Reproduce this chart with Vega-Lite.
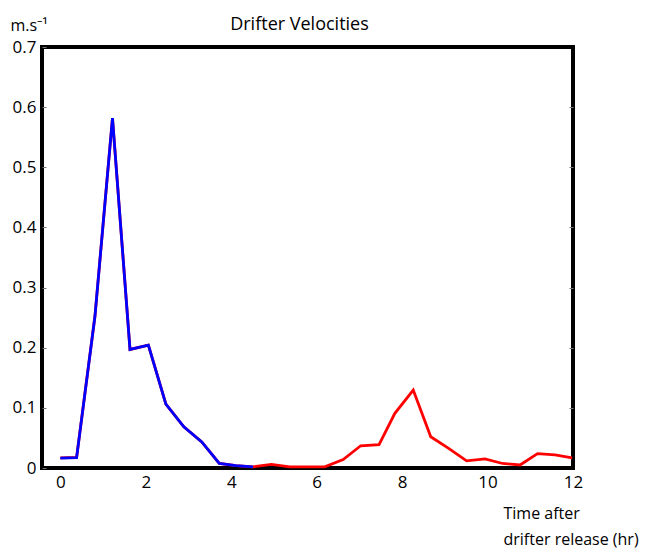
{
  "$schema": "https://vega.github.io/schema/vega-lite/v6.json",
  "autosize": "none",
  "width": 531,
  "height": 421,
  "padding": {"left": 42, "top": 47, "right": 90, "bottom": 82},
  "background": "white",
  "title": {
    "text": "Drifter Velocities",
    "fontSize": 18,
    "font": "Open Sans",
    "fontWeight": "normal",
    "color": "black",
    "offset": 14,
    "dx": -8,
    "dy": 31
  },
  "config": {
    "view": {"stroke": "black", "strokeWidth": 4},
    "axis": {"labelFont": "Open Sans", "titleFont": "Open Sans", "labelColor": "black", "titleColor": "black", "grid": false}
  },
  "datasets": {
    "vel": [
      {"t": 0.0, "v": 0.0168, "series": "red"},
      {"t": 0.38, "v": 0.0175, "series": "red"},
      {"t": 0.81, "v": 0.2527, "series": "red"},
      {"t": 1.22, "v": 0.5817, "series": "red"},
      {"t": 1.63, "v": 0.1972, "series": "red"},
      {"t": 2.06, "v": 0.2044, "series": "red"},
      {"t": 2.47, "v": 0.1062, "series": "red"},
      {"t": 2.89, "v": 0.0684, "series": "red"},
      {"t": 3.31, "v": 0.0434, "series": "red"},
      {"t": 3.72, "v": 0.0075, "series": "red"},
      {"t": 4.11, "v": 0.004, "series": "red"},
      {"t": 4.51, "v": 0.002, "series": "red"},
      {"t": 4.94, "v": 0.006, "series": "red"},
      {"t": 5.37, "v": 0.002, "series": "red"},
      {"t": 5.78, "v": 0.002, "series": "red"},
      {"t": 6.19, "v": 0.002, "series": "red"},
      {"t": 6.62, "v": 0.014, "series": "red"},
      {"t": 7.03, "v": 0.037, "series": "red"},
      {"t": 7.46, "v": 0.039, "series": "red"},
      {"t": 7.83, "v": 0.091, "series": "red"},
      {"t": 8.26, "v": 0.1295, "series": "red"},
      {"t": 8.67, "v": 0.052, "series": "red"},
      {"t": 9.08, "v": 0.033, "series": "red"},
      {"t": 9.51, "v": 0.012, "series": "red"},
      {"t": 9.94, "v": 0.015, "series": "red"},
      {"t": 10.35, "v": 0.0075, "series": "red"},
      {"t": 10.76, "v": 0.005, "series": "red"},
      {"t": 11.17, "v": 0.024, "series": "red"},
      {"t": 11.58, "v": 0.022, "series": "red"},
      {"t": 11.98, "v": 0.017, "series": "red"},
      {"t": 0.0, "v": 0.0165, "series": "blue"},
      {"t": 0.38, "v": 0.0172, "series": "blue"},
      {"t": 0.81, "v": 0.2527, "series": "blue"},
      {"t": 1.22, "v": 0.5817, "series": "blue"},
      {"t": 1.63, "v": 0.1972, "series": "blue"},
      {"t": 2.06, "v": 0.2044, "series": "blue"},
      {"t": 2.47, "v": 0.1062, "series": "blue"},
      {"t": 2.89, "v": 0.0684, "series": "blue"},
      {"t": 3.31, "v": 0.0434, "series": "blue"},
      {"t": 3.72, "v": 0.0075, "series": "blue"},
      {"t": 4.11, "v": 0.004, "series": "blue"},
      {"t": 4.51, "v": 0.002, "series": "blue"}
    ]
  },
  "data": {"name": "vel"},
  "layer": [
    {
      "transform": [{"filter": "datum.series === 'red'"}],
      "mark": {"type": "line", "color": "#ff0000", "strokeWidth": 2.8},
      "encoding": {
        "x": {
          "field": "t", "type": "quantitative",
          "scale": {"domain": [-0.43, 12], "nice": false, "zero": false},
          "axis": {
            "values": [0, 2, 4, 6, 8, 10, 12],
            "ticks": false, "domain": false,
            "labelFontSize": 17, "labelPadding": 6,
            "labelFlush": false,
            "title": ["Time after", "drifter release (hr)"],
            "titleFontSize": 16, "titleFontWeight": "normal",
            "titleAlign": "left", "titleAnchor": "start", "titleBaseline": "alphabetic",
            "titleX": 461, "titleY": 50, "titleLineHeight": 26
          }
        },
        "y": {
          "field": "v", "type": "quantitative",
          "scale": {"domain": [0, 0.7], "nice": false},
          "axis": {
            "values": [0, 0.1, 0.2, 0.3, 0.4, 0.5, 0.6, 0.7],
            "labelExpr": "datum.value == 0 ? '0' : format(datum.value, '.1f')",
            "ticks": true, "tickSize": -4, "tickColor": "#777", "tickWidth": 1,
            "domain": false,
            "labelFontSize": 17, "labelPadding": 10, "labelFlush": false,
            "title": "m.s⁻¹",
            "titleFontSize": 16, "titleFontWeight": "normal",
            "titleAngle": 0, "titleAlign": "left", "titleBaseline": "alphabetic",
            "titleX": -32, "titleY": -17
          }
        }
      }
    },
    {
      "transform": [{"filter": "datum.series === 'blue'"}],
      "mark": {"type": "line", "color": "#0000ff", "strokeWidth": 2.8},
      "encoding": {
        "x": {"field": "t", "type": "quantitative"},
        "y": {
          "field": "v", "type": "quantitative",
          "axis": {
            "orient": "right",
            "values": [0.1, 0.2, 0.3, 0.4, 0.5, 0.6],
            "labels": false, "domain": false,
            "ticks": true, "tickSize": -4, "tickColor": "#777", "tickWidth": 1,
            "title": null
          }
        }
      }
    }
  ],
  "resolve": {"axis": {"y": "independent"}}
}
